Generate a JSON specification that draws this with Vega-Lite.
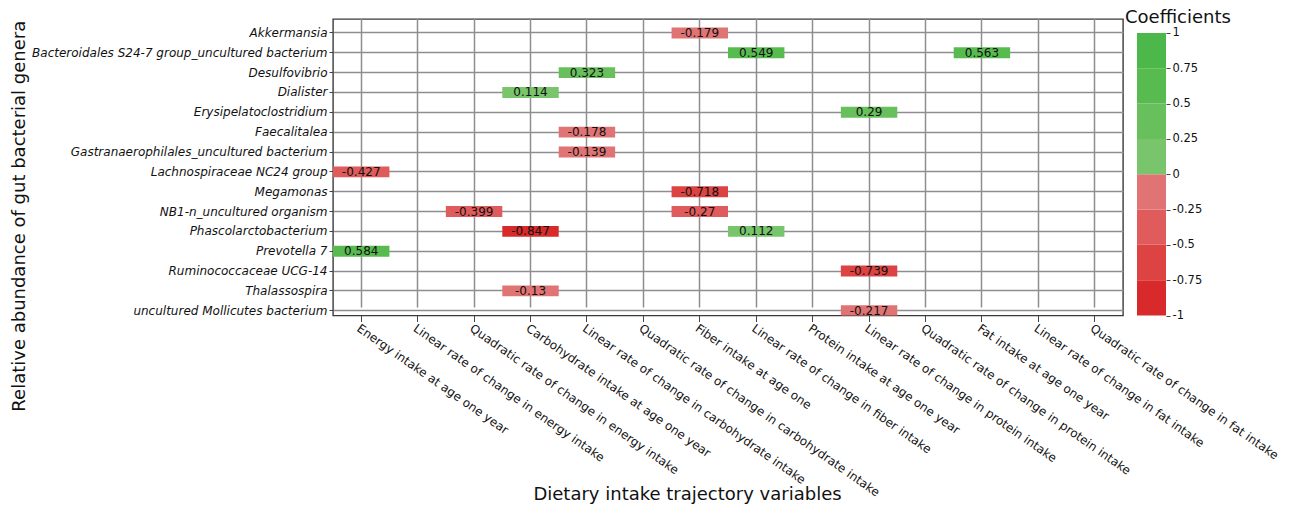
{
  "$schema": "https://vega.github.io/schema/vega-lite/v6.json",
  "padding": {"left": 9, "top": 9, "right": 0, "bottom": 0},
  "config": {"font": "DejaVu Sans", "view": {"stroke": "#3a3a3a", "strokeWidth": 1.4}},
  "bounds": "flush",
  "spacing": 14,
  "resolve": {"scale": {"x": "independent", "y": "independent", "color": "independent"}},
  "hconcat": [
    {
      "width": 790,
      "height": 296.5,
      "data": {"values": [
        {"genus": "Akkermansia", "variable": "Fiber intake at age one", "coef": -0.179},
        {"genus": "Bacteroidales S24-7 group_uncultured bacterium", "variable": "Linear rate of change in fiber intake", "coef": 0.549},
        {"genus": "Bacteroidales S24-7 group_uncultured bacterium", "variable": "Fat intake at age one year", "coef": 0.563},
        {"genus": "Desulfovibrio", "variable": "Linear rate of change in carbohydrate intake", "coef": 0.323},
        {"genus": "Dialister", "variable": "Carbohydrate intake at age one year", "coef": 0.114},
        {"genus": "Erysipelatoclostridium", "variable": "Linear rate of change in protein intake", "coef": 0.29},
        {"genus": "Faecalitalea", "variable": "Linear rate of change in carbohydrate intake", "coef": -0.178},
        {"genus": "Gastranaerophilales_uncultured bacterium", "variable": "Linear rate of change in carbohydrate intake", "coef": -0.139},
        {"genus": "Lachnospiraceae NC24 group", "variable": "Energy intake at age one year", "coef": -0.427},
        {"genus": "Megamonas", "variable": "Fiber intake at age one", "coef": -0.718},
        {"genus": "NB1-n_uncultured organism", "variable": "Quadratic rate of change in energy intake", "coef": -0.399},
        {"genus": "NB1-n_uncultured organism", "variable": "Fiber intake at age one", "coef": -0.27},
        {"genus": "Phascolarctobacterium", "variable": "Carbohydrate intake at age one year", "coef": -0.847},
        {"genus": "Phascolarctobacterium", "variable": "Linear rate of change in fiber intake", "coef": 0.112},
        {"genus": "Prevotella 7", "variable": "Energy intake at age one year", "coef": 0.584},
        {"genus": "Ruminococcaceae UCG-14", "variable": "Linear rate of change in protein intake", "coef": -0.739},
        {"genus": "Thalassospira", "variable": "Carbohydrate intake at age one year", "coef": -0.13},
        {"genus": "uncultured Mollicutes bacterium", "variable": "Linear rate of change in protein intake", "coef": -0.217}
      ]},
      "encoding": {
        "x": {
          "field": "variable", "type": "nominal",
          "scale": {
            "domain": ["Energy intake at age one year", "Linear rate of change in energy intake", "Quadratic rate of change in energy intake", "Carbohydrate intake at age one year", "Linear rate of change in carbohydrate intake", "Quadratic rate of change in carbohydrate intake", "Fiber intake at age one", "Linear rate of change in fiber intake", "Protein intake at age one year", "Linear rate of change in protein intake", "Quadratic rate of change in protein intake", "Fat intake at age one year", "Linear rate of change in fat intake", "Quadratic rate of change in fat intake"],
            "paddingInner": 0, "paddingOuter": 0
          },
          "axis": {
            "title": "Dietary intake trajectory variables",
            "zindex": 0,
            "labelAngle": 35, "labelAlign": "left", "labelBaseline": "top",
            "labelFontSize": 12, "labelColor": "#111", "labelPadding": 1, "labelLimit": 0, "labelOverlap": false,
            "tickSize": 6, "tickColor": "#444", "domain": false,
            "grid": true, "gridColor": "#8e8e8e", "gridWidth": 1.5,
            "titleFontSize": 18, "titleFontWeight": "normal", "titleColor": "#111",
            "titleX": 354, "titleY": 184, "titleBaseline": "alphabetic", "titleAlign": "center"
          }
        },
        "y": {
          "field": "genus", "type": "nominal",
          "scale": {
            "domain": ["Akkermansia", "Bacteroidales S24-7 group_uncultured bacterium", "Desulfovibrio", "Dialister", "Erysipelatoclostridium", "Faecalitalea", "Gastranaerophilales_uncultured bacterium", "Lachnospiraceae NC24 group", "Megamonas", "NB1-n_uncultured organism", "Phascolarctobacterium", "Prevotella 7", "Ruminococcaceae UCG-14", "Thalassospira", "uncultured Mollicutes bacterium"],
            "range": [8.5, 297.2],
            "paddingInner": 0.45, "paddingOuter": 0
          },
          "axis": {
            "title": "Relative abundance of gut bacterial genera",
            "zindex": 0,
            "labelFontStyle": "italic", "labelFontSize": 12, "labelColor": "#111", "labelPadding": 2, "labelLimit": 0,
            "tickSize": 4, "tickColor": "#444", "domain": false,
            "grid": true, "gridColor": "#8e8e8e", "gridWidth": 1.5,
            "titleFontSize": 18, "titleFontWeight": "normal", "titleColor": "#111",
            "titleX": -314, "titleY": 196.7, "titleBaseline": "middle", "titleAlign": "center"
          }
        }
      },
      "layer": [
        {
          "mark": {"type": "rect", "clip": true},
          "encoding": {
            "color": {
              "field": "coef", "type": "quantitative",
              "scale": {"type": "threshold", "domain": [-0.75, -0.5, -0.25, 0, 0.25, 0.5, 0.75], "range": ["#d82a2a", "#dd4343", "#e05b5b", "#e07474", "#78c56c", "#67c05c", "#58bb50", "#4cb84a"]},
              "legend": null
            }
          }
        },
        {
          "mark": {"type": "text", "fontSize": 12, "color": "#111"},
          "encoding": {"text": {"field": "coef", "type": "nominal"}}
        }
      ]
    },
    {
      "width": 29,
      "height": 296.5,
      "view": {"stroke": null},
      "title": {"text": "Coefficients", "anchor": "start", "frame": "group", "offset": 0, "baseline": "alphabetic", "dx": -12, "dy": 22, "fontSize": 18, "fontWeight": "normal", "color": "#111"},
      "data": {"values": [
        {"lo": -1, "hi": -0.75},
        {"lo": -0.75, "hi": -0.5},
        {"lo": -0.5, "hi": -0.25},
        {"lo": -0.25, "hi": 0},
        {"lo": 0, "hi": 0.25},
        {"lo": 0.25, "hi": 0.5},
        {"lo": 0.5, "hi": 0.75},
        {"lo": 0.75, "hi": 1}
      ]},
      "mark": {"type": "rect"},
      "encoding": {
        "y": {
          "field": "hi", "type": "quantitative",
          "scale": {"domain": [-1, 1.0991], "nice": false, "zero": false},
          "axis": {"orient": "right", "values": [-1, -0.75, -0.5, -0.25, 0, 0.25, 0.5, 0.75, 1], "labelExpr": "datum.value + ''", "grid": false, "domain": false, "ticks": true, "tickSize": 4, "tickColor": "#444", "labelPadding": 2, "labelFontSize": 11.5, "labelColor": "#111", "title": null}
        },
        "y2": {"field": "lo"},
        "color": {
          "field": "lo", "type": "quantitative",
          "scale": {"type": "threshold", "domain": [-0.75, -0.5, -0.25, 0, 0.25, 0.5, 0.75], "range": ["#d82a2a", "#dd4343", "#e05b5b", "#e07474", "#78c56c", "#67c05c", "#58bb50", "#4cb84a"]},
          "legend": null
        }
      }
    }
  ]
}
